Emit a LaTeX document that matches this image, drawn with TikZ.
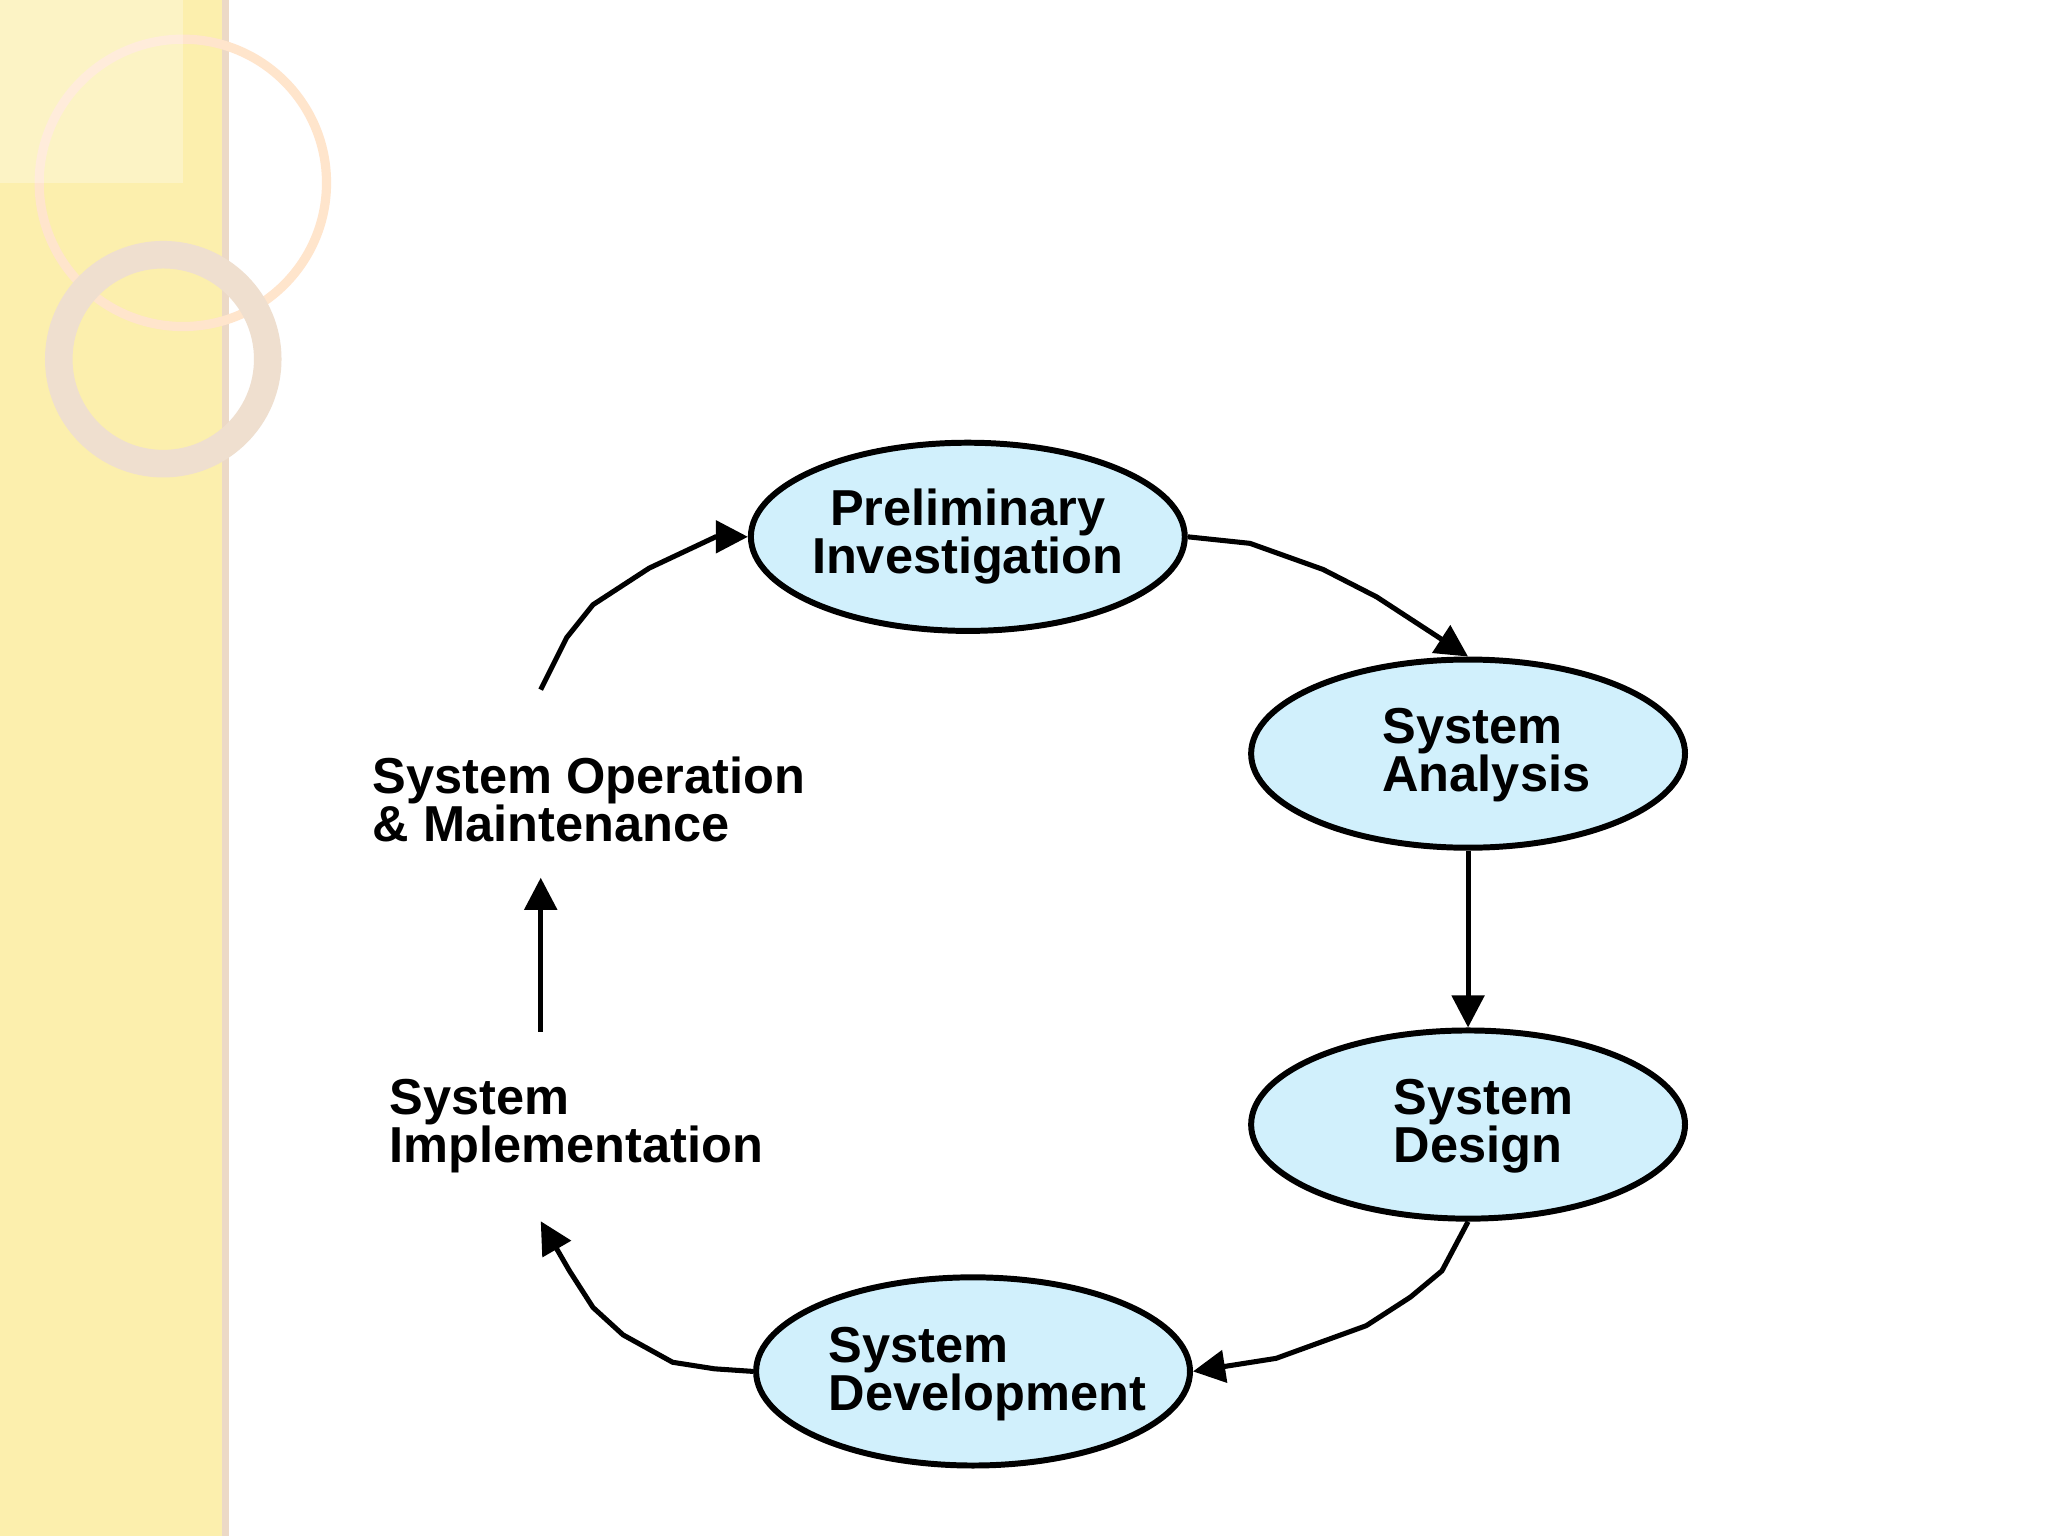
\documentclass[tikz,border=0pt]{standalone}
\usepackage{fontspec}
\setmainfont{Liberation Sans}
\usetikzlibrary{arrows.meta,shapes.geometric}
\begin{document}
\begin{tikzpicture}[x=0.01cm,y=-0.01cm,
  phase/.style={draw=black,line width=1.3pt,fill=cyan!18,ellipse,minimum width=3.32cm,minimum height=1.44cm,inner sep=0pt},
  lbl/.style={font=\fontsize{11}{10.5}\selectfont\bfseries,align=left},
  conn/.style={line width=1.1pt,-{Triangle[length=7pt,width=7pt]}}]
\useasboundingbox (0,0) rectangle (1568,1176);
\fill[white] (0,0) rectangle (1568,1176);
\fill[orange!25!yellow!30!white!95!brown] (0,0) rectangle (173,1176);
\fill[brown!30] (170,0) rectangle (175,1176);
\draw[white!80!orange,line width=2pt] (140,140) circle (110);
\draw[white!75!brown,line width=6pt] (125,275) circle (80);
\fill[white,opacity=0.3] (0,0) rectangle (140,140);
\node[phase] (pi) at (741,411) {};
\node[lbl,align=center] at (741,411) {Preliminary\\Investigation};
\node[phase] (sa) at (1124,577) {};
\node[lbl] at (1138,578) {System\\Analysis};
\node[phase] (sd) at (1124,861) {};
\node[lbl] at (1136,862) {System\\Design};
\node[phase] (sv) at (745,1050) {};
\node[lbl] at (756,1052) {System\\Development};
\node[lbl,anchor=west] (som) at (273,612) {System Operation\\\& Maintenance};
\node[lbl,anchor=west] (si) at (286,862) {System\\Implementation};
\coordinate (a0) at (414,528);
\draw[conn] (a0) -- (434,488) -- (454,463) -- (497,435) -- (548,411) -- (pi.west);
\draw[conn] (pi.east) -- (957,416) -- (1013,436) -- (1054,457) -- (sa.north);
\draw[conn] (sa.south) -- (sd.north);
\draw[conn] (sd.south) -- (1104,973) -- (1080,993) -- (1046,1015) -- (977,1040) -- (sv.east);
\coordinate (b1) at (414,935);
\draw[conn] (sv.west) -- (547,1048) -- (515,1043) -- (477,1022) -- (454,1001) -- (436,973) -- (b1);
\coordinate (c0) at (414,790); \coordinate (c1) at (414,672);
\draw[conn] (c0) -- (c1);
\end{tikzpicture}
\end{document}
